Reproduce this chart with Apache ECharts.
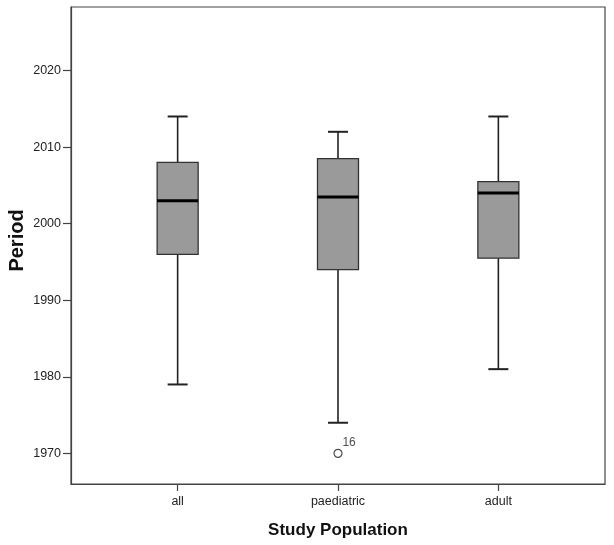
<!DOCTYPE html>
<html>
<head>
<meta charset="utf-8">
<script src="https://cdn.jsdelivr.net/npm/echarts@6/dist/echarts.min.js"></script>
<style>
  html, body { margin: 0; padding: 0; background: #fff; }
  #chart { width: 614px; height: 545px; }
</style>
</head>
<body>
<div id="chart"></div>
<script>
// box summary per study population
const categories = ['all', 'paediatric', 'adult'];
const lowWhisker = [1979, 1974, 1981];
const q1 = [1996, 1994, 1995.5];
const median = [2003, 2003.5, 2004];
const q3 = [2008, 2008.5, 2005.5];
const highWhisker = [2014, 2012, 2014];

// outliers
const outlierGroup = ['paediatric'];
const outlierValue = [1970];
const outlierCase = ['16'];

const yTicks = [1970, 1980, 1990, 2000, 2010, 2020];

const FONT = "'Liberation Sans', Arial, sans-serif";

const boxData = categories.map((c, i) => [i + 1, lowWhisker[i], q1[i], median[i], q3[i], highWhisker[i]]);
const outlierData = outlierGroup.map((g, i) => ({
  value: [categories.indexOf(g) + 1, outlierValue[i]],
  label: outlierCase[i]
}));

const chart = echarts.init(document.getElementById('chart'));

chart.setOption({
  animation: false,
  grid: {
    left: 71, top: 7, right: 9, bottom: 61,
    outerBoundsMode: 'none',
    containLabel: false,
    show: true, borderColor: '#444', borderWidth: 1.2, backgroundColor: '#fff'
  },
  xAxis: {
    type: 'value',
    min: 0.335,
    max: 3.665,
    name: 'Study Population',
    nameLocation: 'middle',
    nameGap: 38,
    nameTextStyle: { fontFamily: FONT, fontSize: 17, fontWeight: 'bold', color: '#111' },
    axisLine: { show: true, lineStyle: { color: '#444', width: 1.2 } },
    axisTick: { show: true, length: 7, customValues: [1, 2, 3], lineStyle: { color: '#444', width: 1.2 } },
    axisLabel: {
      customValues: [1, 2, 3],
      formatter: v => categories[Math.round(v) - 1],
      margin: 11,
      fontFamily: FONT, fontSize: 12.5, color: '#222'
    },
    splitLine: { show: false }
  },
  yAxis: {
    type: 'value',
    min: 1966,
    max: 2028.3,
    name: 'Period',
    nameLocation: 'middle',
    nameGap: 44,
    nameMoveOverlap: false,
    nameTextStyle: { fontFamily: FONT, fontSize: 20, fontWeight: 'bold', color: '#111', padding: [0, 0, 0, 10] },
    axisLine: { show: true, lineStyle: { color: '#444', width: 1.2 } },
    axisTick: { show: true, length: 8, customValues: yTicks, lineStyle: { color: '#444', width: 1.2 } },
    axisLabel: {
      customValues: yTicks,
      formatter: v => String(v),
      margin: 10,
      fontFamily: FONT, fontSize: 12.5, color: '#222'
    },
    splitLine: { show: false }
  },
  series: [
    {
      type: 'custom',
      data: boxData,
      renderItem(params, api) {
        const x = api.value(0);
        const lo = api.coord([x, api.value(1)]);
        const b1 = api.coord([x, api.value(2)]);
        const md = api.coord([x, api.value(3)]);
        const b3 = api.coord([x, api.value(4)]);
        const hi = api.coord([x, api.value(5)]);
        const cx = lo[0];
        const hb = 20.5, hc = 10;
        const wStyle = { stroke: '#222', lineWidth: 1.6 };
        return {
          type: 'group',
          children: [
            { type: 'line', shape: { x1: cx, y1: hi[1], x2: cx, y2: b3[1] }, style: wStyle },
            { type: 'line', shape: { x1: cx, y1: b1[1], x2: cx, y2: lo[1] }, style: wStyle },
            { type: 'line', shape: { x1: cx - hc, y1: hi[1], x2: cx + hc, y2: hi[1] }, style: { stroke: '#222', lineWidth: 2 } },
            { type: 'line', shape: { x1: cx - hc, y1: lo[1], x2: cx + hc, y2: lo[1] }, style: { stroke: '#222', lineWidth: 2 } },
            { type: 'rect', shape: { x: cx - hb, y: b3[1], width: hb * 2, height: b1[1] - b3[1] },
              style: { fill: '#9a9a9a', stroke: '#333', lineWidth: 1.3 } },
            { type: 'line', shape: { x1: cx - hb, y1: md[1], x2: cx + hb, y2: md[1] }, style: { stroke: '#000', lineWidth: 3 } }
          ]
        };
      },
      z: 2
    },
    {
      type: 'scatter',
      data: outlierData.map(d => d.value),
      symbol: 'circle',
      symbolSize: 8,
      itemStyle: { color: '#fff', borderColor: '#222', borderWidth: 1.2 },
      label: {
        show: true,
        position: [9, -12],
        formatter: p => outlierData[p.dataIndex].label,
        fontFamily: FONT, fontSize: 12, color: '#222'
      },
      z: 3
    }
  ]
});
</script>
</body>
</html>
